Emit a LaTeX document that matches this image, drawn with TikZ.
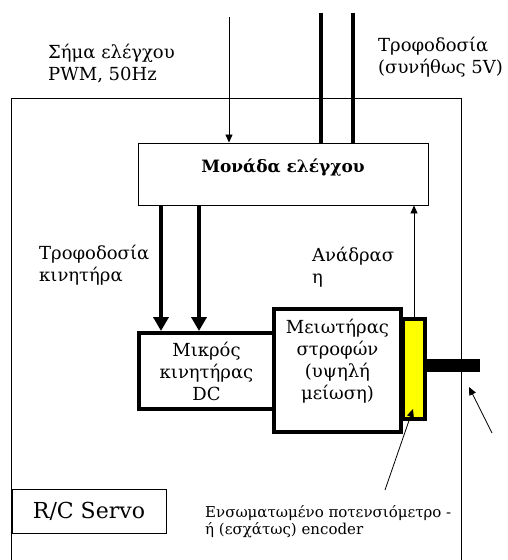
\documentclass[tikz,border=0pt]{standalone}
\usepackage{fontspec}
\setmainfont{DejaVu Serif}
\usetikzlibrary{arrows.meta,positioning,calc}
\definecolor{potyellow}{HTML}{FFFF00}

\begin{document}
\begin{tikzpicture}[x=1pt, y=-1pt, every node/.style={font=\fontsize{18}{22}\selectfont},
  thinbox/.style={draw, line width=0.9pt, inner sep=0pt},
  thickbox/.style={draw, line width=4pt, inner sep=0pt},
  txt/.style={inner sep=0pt, align=left, anchor=west},
  thinarrow/.style={-{Triangle[length=8pt,width=7pt]}, line width=0.8pt},
  thickarrow/.style={-{Triangle[length=14pt,width=15pt]}, line width=4pt}]
  \useasboundingbox (0,0) rectangle (508,560);

  % outer servo housing
  \draw[line width=0.9pt] (11,560) -- (11,98) -- (461,98) -- (461,560);

  % blocks
  \node[thinbox, minimum width=290pt, minimum height=62pt] (ctrl) at (283,174) {};
  \node[below=13pt of ctrl.north, font=\fontsize{17}{21}\selectfont\bfseries] (ctrltxt) {Μονάδα ελέγχου};
  \node[thickbox, minimum width=135pt, minimum height=76pt, align=center] (motor) at (206.5,371) {Μικρός\\κινητήρας\\DC};
  \node[thickbox, minimum width=127pt, minimum height=123pt] (gear) at (337.5,370.5) {};
  \node[below=12pt of gear.north, align=center, inner sep=0pt] (geartxt) {Μειωτήρας\\στροφών\\(υψηλή\\μείωση)};
  \node[thickbox, fill=potyellow, minimum width=22pt, minimum height=100pt] (pot) at (414,369) {};
  \node[fill=black, inner sep=0pt, minimum width=53pt, minimum height=13pt] (shaft) at (453.5,365.5) {};
  \node[thinbox, minimum width=154pt, minimum height=44pt, font=\fontsize{22}{26}\selectfont] (servo) at (89,511) {R/C Servo};

  % texts
  \node[txt] (pwm) at (48,64) {Σήμα ελέγχου\\PWM, 50Hz};
  \node[txt] (supply) at (378,57) {Τροφοδοσία\\(συνήθως 5V)};
  \node[txt] (msupply) at (39,265) {Τροφοδοσία\\κινητήρα};
  \node[txt] (fb) at (312,267) {Ανάδρασ\\η};
  \node[txt, font=\fontsize{15}{17}\selectfont] (enc) at (205,522) {Ενσωματωμένο ποτενσιόμετρο -\\ή (εσχάτως) encoder};

  % signal and power lines
  \coordinate (pwmin) at (229,17);
  \coordinate (pw1) at (321,13);
  \coordinate (pw2) at (353,13);
  \coordinate (m1) at (161,0);
  \coordinate (m2) at (199,0);
  \draw[thinarrow] (pwmin) -- (pwmin |- ctrl.north);
  \draw[line width=4pt] (pw1) -- (pw1 |- ctrl.north);
  \draw[line width=4pt] (pw2) -- (pw2 |- ctrl.north);
  \draw[thickarrow] (m1 |- ctrl.south) -- (m1 |- motor.north);
  \draw[thickarrow] (m2 |- ctrl.south) -- (m2 |- motor.north);
  \draw[thinarrow] (pot.north) -- (pot.north |- ctrl.south);

  % pointers
  \coordinate (enctail) at (385,490);
  \coordinate (shafttail) at (492,433);
  \draw[thinarrow] (enctail) -- (413,409);
  \draw[thinarrow] (shafttail) -- (469,387);
\end{tikzpicture}
\end{document}
